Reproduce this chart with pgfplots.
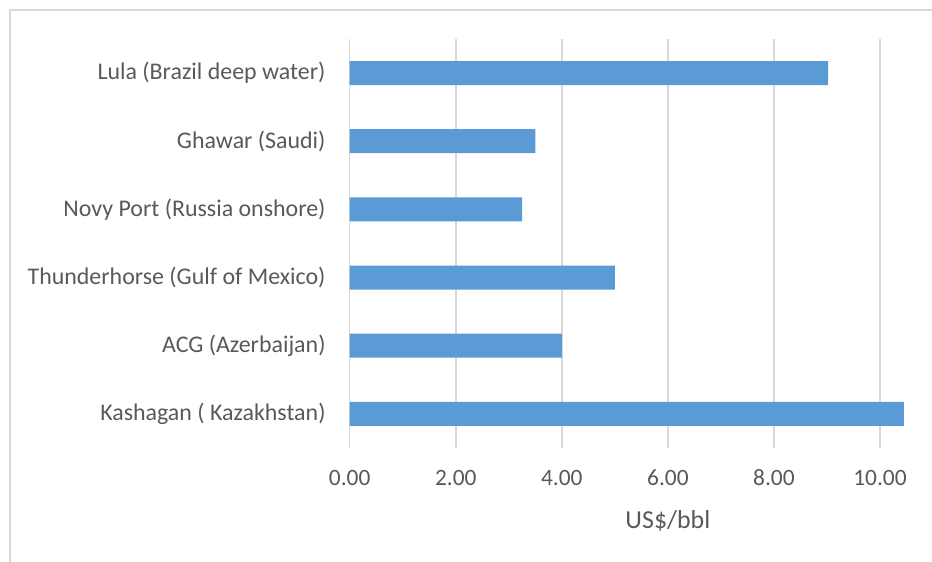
\documentclass[border=0pt]{standalone}
\usepackage{pgfplots}
\pgfplotsset{compat=1.18}
\usepackage{fontspec}
\setmainfont{Carlito}
\definecolor{barblue}{HTML}{5B9BD5}
\definecolor{txtgray}{HTML}{595959}
\definecolor{gridgray}{HTML}{D9D9D9}
\begin{document}
\begin{tikzpicture}
\useasboundingbox (0bp,0bp) rectangle (932bp,562bp);
\draw[gridgray, line width=2bp] (9.7bp,0bp) -- (9.7bp,552.3bp) -- (932bp,552.3bp);
\begin{axis}[
  at={(349.7bp,114bp)}, anchor=south west,
  scale only axis, width=636.4bp, height=409bp,
  xmin=0, xmax=12, ymin=-0.5, ymax=5.5,
  xbar, bar width=24bp,
  axis line style={draw=none},
  major tick length=0pt,
  xtick={0,2,...,10},
  xmajorgrids, grid style={gridgray, line width=1.5bp},
  ytick={0,...,5},
  yticklabels={Kashagan ( Kazakhstan), ACG (Azerbaijan), Thunderhorse (Gulf of Mexico), Novy Port (Russia onshore), Ghawar (Saudi), Lula (Brazil deep water)},
  /pgf/number format/assume math mode=true,
  xticklabel={\pgfmathprintnumber[fixed, fixed zerofill, precision=2, assume math mode=true]{\tick}},
  xticklabel style={anchor=center, yshift=-30bp},
  yticklabel style={anchor=east, inner sep=0pt, xshift=-24bp, font=\fontsize{24}{28}\selectfont},
  xticklabel style={font=\fontsize{23.5}{28}\selectfont},
  ticklabel style={text=txtgray},
  xlabel={US\$/bbl},
  xlabel style={font=\fontsize{26}{30}\selectfont, text=txtgray, at={(axis description cs:0.5,0)}, anchor=center, yshift=-73bp},
]
\addplot[fill=barblue, draw=none] coordinates {(10.45,0) (4.0,1) (5.0,2) (3.25,3) (3.5,4) (9.02,5)};
\end{axis}
\end{tikzpicture}
\end{document}
